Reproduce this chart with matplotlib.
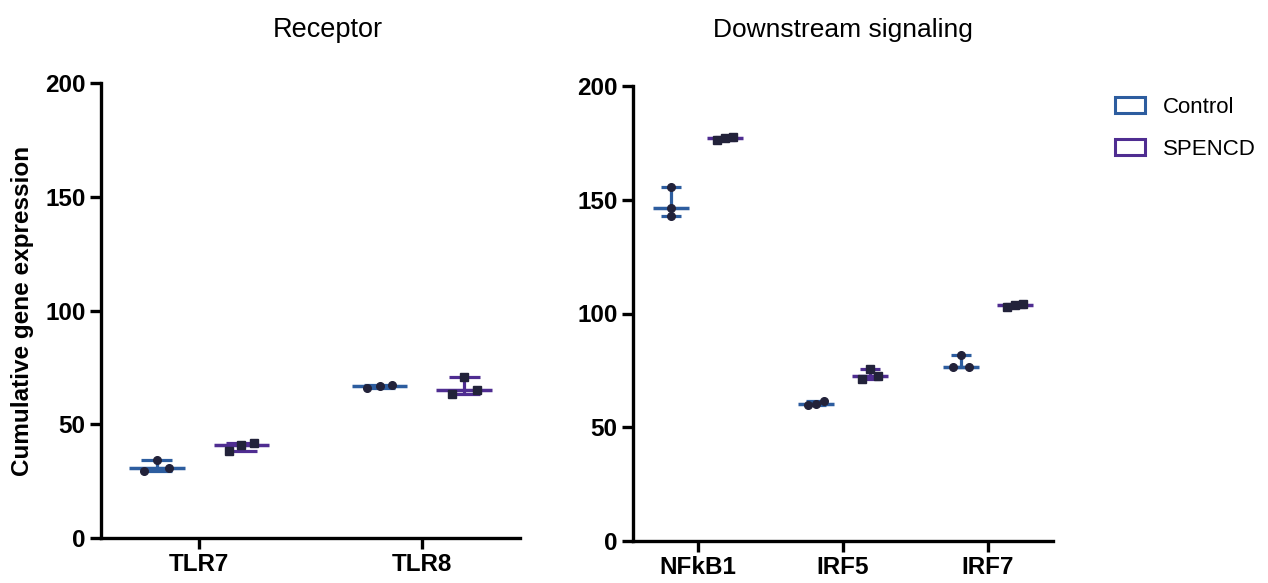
import numpy as np
import matplotlib
matplotlib.use('Agg')
from matplotlib import pyplot as plt
from matplotlib.patches import Patch

plt.rcParams['font.family'] = ['Liberation Sans', 'DejaVu Sans']

# data (three replicates per group)
receptor_genes = ['TLR7', 'TLR8']
receptor_control = [[29.3, 30.9, 34.3], [66.1, 66.8, 67.3]]
receptor_spencd = [[38.4, 40.8, 41.6], [63.1, 65.2, 70.6]]

signal_genes = ['NFkB1', 'IRF5', 'IRF7']
signal_control = [[143.0, 146.4, 155.7], [60.0, 60.2, 61.4], [76.4, 76.6, 81.9]]
signal_spencd = [[176.3, 177.3, 177.7], [71.3, 72.7, 75.7], [103.0, 103.6, 104.0]]

groups = ['Control', 'SPENCD']
colores = ['#2d5d9f', '#4f2d91']
marcadores = ['o', 's']
color_punto = '#22223a'


def offsets_swarm(valores, umbral, paso):
    # simple beeswarm: points close in y get spread sideways
    orden = np.argsort(valores)
    res = np.zeros(len(valores))
    cluster = [orden[0]]
    clusters = []
    for i in orden[1:]:
        if valores[i] - valores[cluster[-1]] < umbral:
            cluster.append(i)
        else:
            clusters.append(cluster)
            cluster = [i]
    clusters.append(cluster)
    for c in clusters:
        k = len(c)
        for j, idx in enumerate(c):
            res[idx] = (j - (k - 1) / 2) * paso * (2 if k == 2 else 1)
    return res


def dibuja_grupo(ax, x, valores, color, marcador, esc):
    valores = np.array(valores)
    q1, med, q3 = np.percentile(valores, [25, 50, 75], method='weibull')
    ax.vlines(x, valores.min(), valores.max(), color=color, lw=2.3, zorder=2)
    ax.hlines(med, x - 0.125 * esc, x + 0.125 * esc, color=color, lw=2.5, zorder=2)
    ax.hlines([q1, q3], x - 0.07 * esc, x + 0.07 * esc, color=color, lw=2.3, zorder=2)
    dx = offsets_swarm(valores, 2.6, 0.055 * esc)
    ax.plot(x + dx, valores, ls='none', marker=marcador, ms=6 if marcador == 's' else 5.5,
            color=color_punto, mec=color_punto, zorder=3)


def estilo_ejes(ax, genes, margen):
    ax.set_ylim(0, 200)
    ax.set_xlim(-margen, len(genes) - 1 + margen)
    ax.set_yticks([0, 50, 100, 150, 200])
    ax.set_xticks(range(len(genes)))
    ax.set_xticklabels(genes)
    for s in ['top', 'right']:
        ax.spines[s].set_visible(False)
    for s in ['left', 'bottom']:
        ax.spines[s].set_linewidth(2.4)
    ax.tick_params(width=2.4, length=8, labelsize=17.5, pad=3)
    for t in ax.get_xticklabels() + ax.get_yticklabels():
        t.set_fontweight('bold')


fig = plt.figure(figsize=(12.68, 5.83), dpi=100)
ax1 = fig.add_axes([101 / 1268, 1 - 538 / 583, 419 / 1268, 455 / 583])
ax2 = fig.add_axes([633 / 1268, 1 - 541 / 583, 420 / 1268, 455 / 583])

for i in range(len(receptor_genes)):
    dibuja_grupo(ax1, i - 0.19, receptor_control[i], colores[0], marcadores[0], 1.0)
    dibuja_grupo(ax1, i + 0.19, receptor_spencd[i], colores[1], marcadores[1], 1.0)

for i in range(len(signal_genes)):
    dibuja_grupo(ax2, i - 0.186, signal_control[i], colores[0], marcadores[0], 1.0)
    dibuja_grupo(ax2, i + 0.186, signal_spencd[i], colores[1], marcadores[1], 1.0)

estilo_ejes(ax1, receptor_genes, 0.44)
estilo_ejes(ax2, signal_genes, 0.45)

ax1.set_ylabel('Cumulative gene expression', fontsize=17.5, fontweight='bold', labelpad=8)

fig.text(328 / 1268, 1 - 30 / 583, 'Receptor', ha='center', va='center', fontsize=19.5)
fig.text(843 / 1268, 1 - 30 / 583, 'Downstream signaling', ha='center', va='center', fontsize=19)

handles = [Patch(facecolor='white', edgecolor=c, lw=2.2) for c in colores]
fig.legend(handles, groups, loc='upper left', bbox_to_anchor=(1115 / 1268, 1 - 97 / 583),
           frameon=False, fontsize=16, handlelength=1.35, handleheight=0.72,
           labelspacing=0.95, handletextpad=0.8, borderpad=0, borderaxespad=0)

fig.savefig('out.png', dpi=100)
